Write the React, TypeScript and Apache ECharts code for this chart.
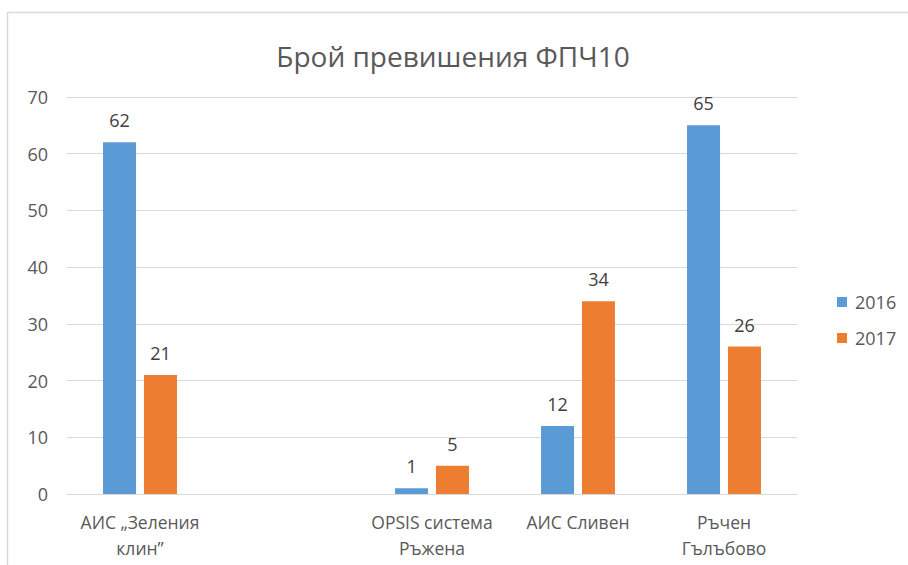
import React, { useEffect, useRef } from "react";
import * as echarts from "echarts";

const categories = ["АИС „Зеления\nклин”", "", "OPSIS система\nРъжена", "АИС Сливен", "Ръчен\nГълъбово"];
const values2016: (number | null)[] = [62, null, 1, 12, 65];
const values2017: (number | null)[] = [21, null, 5, 34, 26];
const seriesNames = ["2016", "2017"];
const yTicks = { min: 0, max: 70, interval: 10 };

const FONT = "'Open Sans', 'Noto Sans', sans-serif";

export default function App() {
  const ref = useRef<HTMLDivElement>(null);
  useEffect(() => {
    if (!ref.current) return;
    const chart = echarts.init(ref.current, null, { renderer: "svg" });
    const label = {
      show: true,
      position: "top" as const,
      distance: 13,
      color: "#404040",
      fontSize: 18,
      fontFamily: FONT,
    };
    chart.setOption({
      animation: false,
      backgroundColor: "#fff",
      textStyle: { fontFamily: FONT },
      title: {
        text: "Брой превишения ФПЧ10",
        left: 448,
        textAlign: "center",
        top: 37,
        textStyle: { fontSize: 28, fontWeight: "normal", color: "#595959", fontFamily: FONT },
      },
      graphic: [
        {
          type: "rect",
          shape: { x: 7.5, y: 12.5, width: 1000, height: 700 },
          style: { fill: "none", stroke: "#d9d9d9", lineWidth: 1.5 },
          silent: true,
        },
      ],
      legend: {
        orient: "vertical",
        left: 832,
        top: 288,
        itemWidth: 10,
        itemHeight: 10,
        itemGap: 18,
        icon: "rect",
        textStyle: { fontSize: 18, color: "#595959", fontFamily: FONT, padding: [0, 0, 0, 3] },
        data: seriesNames,
      },
      grid: { left: 67, right: 111, top: 97, bottom: 71, containLabel: false },
      xAxis: {
        type: "category",
        data: categories,
        axisLine: { lineStyle: { color: "#d9d9d9", width: 1 } },
        axisTick: { show: false },
        axisLabel: {
          color: "#595959",
          fontSize: 17.5,
          fontFamily: FONT,
          lineHeight: 26,
          margin: 15,
          interval: 0,
        },
      },
      yAxis: {
        type: "value",
        min: yTicks.min,
        max: yTicks.max,
        interval: yTicks.interval,
        axisLine: { show: false },
        axisTick: { show: false },
        splitLine: { lineStyle: { color: "#d9d9d9", width: 1 } },
        axisLabel: { color: "#595959", fontSize: 18, fontFamily: FONT, margin: 19 },
      },
      series: [
        {
          name: seriesNames[0],
          type: "bar",
          data: values2016,
          barWidth: 33,
          barGap: "24%",
          itemStyle: { color: "#5b9bd5" },
          label,
        },
        {
          name: seriesNames[1],
          type: "bar",
          data: values2017,
          barWidth: 33,
          barGap: "24%",
          itemStyle: { color: "#ed7d31" },
          label,
        },
      ],
    });
    return () => chart.dispose();
  }, []);
  return (
    <div
      ref={ref}
      style={{ position: "fixed", left: 0, top: 0, width: 908, height: 565 }}
    />
  );
}
